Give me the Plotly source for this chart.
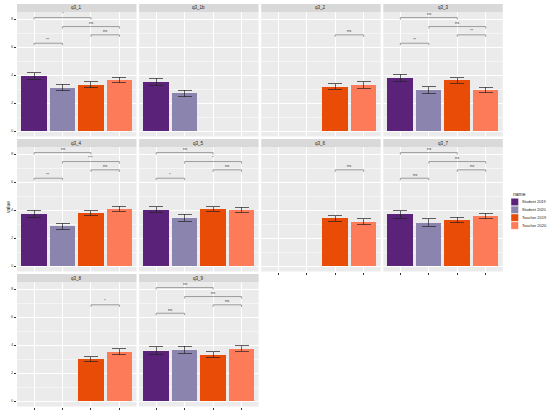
import plotly.graph_objects as go

# ---- data ----
questions = ["q3_1", "q3_1b", "q3_2", "q3_3", "q3_4", "q3_5", "q3_6", "q3_7", "q3_8", "q3_9"]
positions = [1, 2, 3, 4]

series_names = ["Student 2019", "Student 2020", "Teacher 2019", "Teacher 2020"]
series_colors = ["#5a2379", "#8b84ae", "#e94c07", "#fd7b58"]

student_2019 = [3.93, 3.52, None, 3.81, 3.74, 4.02, None, 3.69, None, 3.60]
student_2020 = [3.10, 2.69, None, 2.93, 2.83, 3.45, None, 3.10, None, 3.67]
teacher_2019 = [3.31, None, 3.17, 3.62, 3.79, 4.07, 3.40, 3.29, 2.98, 3.31]
teacher_2020 = [3.64, None, 3.29, 2.93, 4.10, 4.02, 3.17, 3.57, 3.52, 3.74]

student_2019_se = [0.24, 0.25, None, 0.26, 0.26, 0.20, None, 0.27, None, 0.27]
student_2020_se = [0.23, 0.24, None, 0.25, 0.24, 0.25, None, 0.26, None, 0.26]
teacher_2019_se = [0.21, None, 0.20, 0.20, 0.17, 0.17, 0.20, 0.20, 0.19, 0.20]
teacher_2020_se = [0.19, None, 0.22, 0.19, 0.17, 0.18, 0.21, 0.20, 0.21, 0.20]

# significance brackets: (left, right) and height, labels per question
bracket_pairs = [(1, 3), (2, 4), (3, 4), (1, 2)]
bracket_y = [8.1, 7.46, 6.87, 6.27]
bracket_labels = [
    ["*", "ns", "ns", "**"],
    [None, None, None, None],
    [None, None, "ns", None],
    ["ns", "ns", "**", "**"],
    ["ns", "***", "ns", "**"],
    ["ns", "*", "ns", "*"],
    [None, None, "ns", None],
    ["ns", "ns", "ns", "ns"],
    [None, None, "*", None],
    ["ns", "ns", "ns", "ns"],
]

means = [student_2019, student_2020, teacher_2019, teacher_2020]
errors = [student_2019_se, student_2020_se, teacher_2019_se, teacher_2020_se]

W, H = 550, 414
col_left = [17, 139.1, 261.2, 383.3]
row_top = [12, 147, 282]
pw, ph = 119.5, 124.5
strip_h = 8
FONT = "Liberation Sans, Arial, sans-serif"

fig = go.Figure()
layout = dict(
    width=W, height=H,
    margin=dict(l=0, r=0, t=0, b=0),
    paper_bgcolor="white", plot_bgcolor="#ebebeb",
    showlegend=False, bargap=0,
    font=dict(family=FONT, size=4, color="#4d4d4d"),
)
shapes = []
annotations = []

for i, q in enumerate(questions):
    r, c = divmod(i, 4)
    n = "" if i == 0 else str(i + 1)
    xref, yref = "x" + n, "y" + n
    left, top = col_left[c], row_top[r]
    bottom_panel = (r == 2) or (r == 1 and c >= 2)

    layout["xaxis" + n] = dict(
        domain=[left / W, (left + pw) / W], anchor=yref,
        range=[0.4, 4.6], tickvals=positions, showticklabels=False,
        ticks="outside" if bottom_panel else "", ticklen=2, tickwidth=0.5, tickcolor="#333333",
        showgrid=True, gridcolor="white", gridwidth=0.6, zeroline=False, fixedrange=True,
    )
    layout["yaxis" + n] = dict(
        domain=[1 - (top + ph) / H, 1 - top / H], anchor=xref,
        range=[-0.39, 8.5], tick0=0, dtick=2,
        showticklabels=(c == 0), ticks="outside" if c == 0 else "",
        ticklen=2, tickwidth=0.5, tickcolor="#333333",
        tickfont=dict(size=4, color="#4d4d4d"),
        showgrid=True, gridcolor="white", gridwidth=0.6, zeroline=False,
        minor=dict(dtick=1, tick0=0, showgrid=True, gridcolor="#f5f5f5", gridwidth=0.3),
        fixedrange=True,
    )

    # bars with error bars
    for k in range(4):
        v = means[k][i]
        e = errors[k][i]
        if v is None:
            continue
        fig.add_trace(go.Bar(
            x=[positions[k]], y=[v], width=0.9, xaxis=xref, yaxis=yref,
            marker=dict(color=series_colors[k], line=dict(width=0)),
            error_y=dict(type="data", array=[e], visible=True,
                         color="#222222", thickness=0.7, width=7),
            name=series_names[k],
        ))

    # significance brackets
    for (a, b), yb, lab in zip(bracket_pairs, bracket_y, bracket_labels[i]):
        if lab is None:
            continue
        fig.add_trace(go.Scatter(
            x=[a, a, b, b], y=[yb - 0.15, yb, yb, yb - 0.15],
            mode="lines", line=dict(color="#666666", width=0.6),
            xaxis=xref, yaxis=yref, hoverinfo="skip",
        ))
        annotations.append(dict(
            x=(a + b) / 2, y=yb, xref=xref, yref=yref, text=lab,
            showarrow=False, yanchor="bottom", yshift=-0.5,
            font=dict(size=4, color="#333333"),
        ))

    # facet strip
    shapes.append(dict(
        type="rect", xref="paper", yref="paper",
        x0=left / W, x1=(left + pw) / W,
        y0=1 - top / H, y1=1 - (top - strip_h) / H,
        fillcolor="#d9d9d9", line=dict(width=0), layer="below",
    ))
    annotations.append(dict(
        x=(left + pw / 2) / W, y=1 - (top - strip_h / 2) / H, xref="paper", yref="paper",
        text=q, showarrow=False, xanchor="center", yanchor="middle",
        font=dict(size=4.5, color="#1a1a1a"),
    ))

# y axis title
annotations.append(dict(
    x=8 / W, y=1 - 207 / H, xref="paper", yref="paper", text="value",
    textangle=-90, showarrow=False, xanchor="center", yanchor="middle",
    font=dict(size=5, color="#1a1a1a"),
))

# legend (drawn by hand so the keys can sit close together)
annotations.append(dict(
    x=510.5 / W, y=1 - 194 / H, xref="paper", yref="paper", text="name",
    showarrow=False, xanchor="left", yanchor="middle",
    font=dict(size=5, color="#1a1a1a"),
))
for k, (nm, col) in enumerate(zip(series_names, series_colors)):
    cy = 202 + k * 7.85
    shapes.append(dict(
        type="rect", xref="paper", yref="paper",
        x0=511 / W, x1=518.5 / W, y0=1 - (cy + 3.7) / H, y1=1 - (cy - 3.7) / H,
        fillcolor=col, line=dict(color="white", width=0.4),
    ))
    annotations.append(dict(
        x=520 / W, y=1 - cy / H, xref="paper", yref="paper", text=nm,
        showarrow=False, xanchor="left", yanchor="middle",
        font=dict(size=4, color="#1a1a1a"),
    ))

layout["shapes"] = shapes
layout["annotations"] = annotations
fig.update_layout(**layout)

# the page's default 8px body margin would push the figure off the window
fig.write_html(
    "out.html",
    config={"displayModeBar": False},
    post_script="document.body.style.margin='0';document.body.style.overflow='hidden';",
)
